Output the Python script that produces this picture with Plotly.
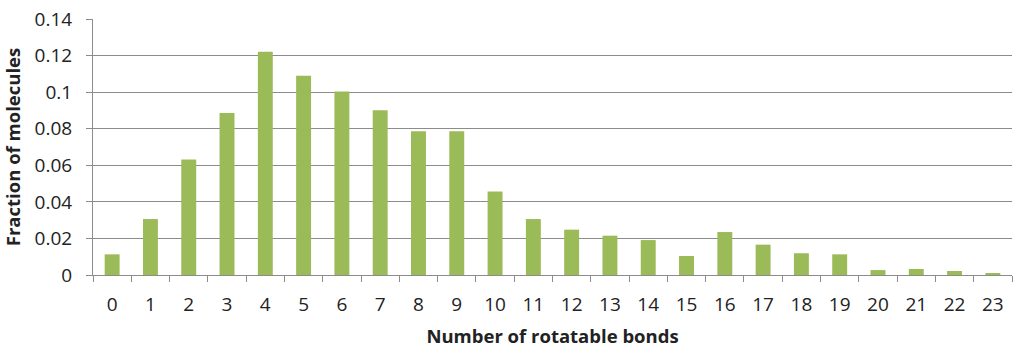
import plotly.graph_objects as go

bonds = [str(i) for i in range(24)]
fraction = [0.0113, 0.0306, 0.0631, 0.0886, 0.1221, 0.1090, 0.1003, 0.0901,
            0.0786, 0.0786, 0.0456, 0.0306, 0.0248, 0.0215, 0.0191, 0.0104,
            0.0235, 0.0166, 0.0119, 0.0113, 0.0027, 0.0033, 0.0022, 0.0009]
y_ticks = [0, 0.02, 0.04, 0.06, 0.08, 0.1, 0.12, 0.14]
y_tick_labels = ["0", "0.02", "0.04", "0.06", "0.08", "0.1", "0.12", "0.14"]

FONT = "Open Sans, sans-serif"

fig = go.Figure(go.Bar(x=bonds, y=fraction, marker=dict(color="#9BBB59", line=dict(width=0)),
                       width=0.39))

fig.update_layout(
    width=1022, height=352,
    margin=dict(l=93, r=10, t=19, b=77),
    plot_bgcolor="white", paper_bgcolor="white",
    showlegend=False,
    font=dict(family=FONT, size=19, color="#222222"),
)
fig.update_xaxes(
    type="category", tickson="boundaries", ticks="outside", ticklen=6,
    tickcolor="#8c8c8c", showline=True, linecolor="#8c8c8c", linewidth=1,
    showgrid=False, tickfont=dict(size=19), ticklabelstandoff=12, automargin=False,
    title=dict(text="<b>Number of rotatable bonds</b>", font=dict(size=18.5), standoff=14),
)
fig.update_yaxes(
    range=[0, 0.14], tickvals=y_ticks, ticktext=y_tick_labels,
    ticks="outside", ticklen=6, tickcolor="#8c8c8c",
    showline=True, linecolor="#8c8c8c", linewidth=1,
    showgrid=True, gridcolor="#8c8c8c", gridwidth=1, zeroline=False,
    tickfont=dict(size=19), ticklabelstandoff=10, automargin=False,
    title=dict(text="<b>Fraction of molecules</b>", font=dict(size=18.5), standoff=10),
)

fig.write_html("out.html")
